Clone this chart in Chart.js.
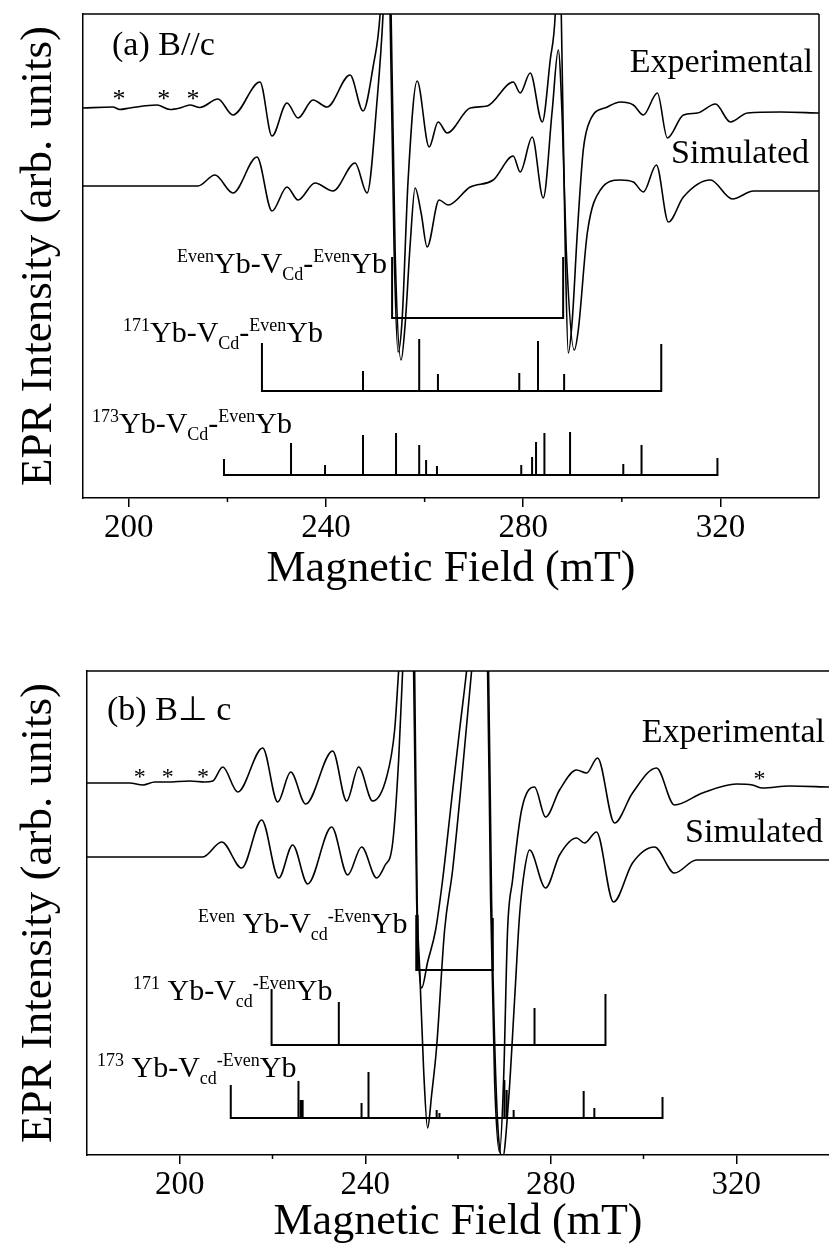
<!DOCTYPE html>
<html><head><meta charset="utf-8">
<script src="https://cdn.jsdelivr.net/npm/chart.js@4.4.1/dist/chart.umd.min.js"></script>
<style>
html,body{margin:0;padding:0;background:#fff;}
canvas{display:block;}
</style></head>
<body>
<canvas id="c1" width="829" height="620"></canvas>
<canvas id="c2" width="829" height="625"></canvas>
<script>
// ---------- tick labels ----------
const majorTicks = [200, 240, 280, 320];
const minorTicks = [220, 260, 300];

// ---------- panel (a) B//c ----------
const aExpField = [190.7,196.75,198.17,200.2,205.69,208.33,210.36,212.39,214.42,218.07,221.12,226.6,229.04,232.08,234.32,237.36,240.2,244.87,247.51,249.54,250.97,251.98,252.99,253.81,254.62,255.43,256.65,258.48,260.92,262.74,264.57,269.24,272.69,277.97,279.39,281.42,283.86,285.48,286.5,287.21,287.72,288.53,289.14,289.95,290.97,292.18,293.6,297.06,299.7,302.34,304.37,307.21,309.24,312.49,315.33,318.99,322.03,325.48,332.19,340];
const aExpInt = [390,391,388.5,390,393,388.5,390,393,390.5,399,383,416,362,395,380,398,391,423,387,431,484,588,484,248,146,178,318,417,351,376,365,390,392,416,405,425,376,438,484,588,484,248,145,178,265,348,378,391,396,393,383,405,360,383,385,394,376,385,386,385];

const aSimField = [190.7,214.01,217.46,221.12,225.99,229.04,232.08,234.32,237.77,241.42,245.89,248.33,250.36,251.57,252.39,253.2,254.01,255.23,256.04,257.06,258.07,259.29,260.51,262.94,264.77,269.24,273.91,277.97,279.39,281.83,284.06,285.89,287.11,287.92,288.73,290.36,291.17,293.0,295.64,299.7,302.34,304.37,307.01,309.45,312.49,317.97,322.44,326.7,340];
const aSimInt = [312,312,323,305,341,287,311,298,315,307,335,305,398,484,588,484,248,138,173,253,310,285,251,298,293,311,318,342,326,361,300,388,448,378,248,148,168,265,308,318,316,306,333,276,301,318,299,307,307];

const aEvenPos = [253.4, 288.1];
const aEvenH = [61, 61];
const aEvenBase = 180;
const a171Pos = [227.0,247.5,258.9,262.7,279.2,283.0,288.3,308.0];
const a171H = [48,20,52,17,18,50,17,47];
const a171Base = 107;
const a173Pos = [219.3,232.9,239.8,247.5,254.2,258.9,260.3,262.5,279.6,281.8,282.6,284.3,289.5,300.3,304.0,319.4];
const a173H = [16,32,10,40,42,30,15,9,10,18,33,42,43,11,30,17];
const a173Base = 23;
const aStarField = [198.0, 207.1, 213.0];
const aStarInt = [403, 403, 403];

// ---------- panel (b) B perp c ----------
const bExpField = [180,189.22,192.03,194.61,197.2,202.16,205.39,207.11,209.27,212.5,217.89,221.12,223.92,227.16,232.97,235.99,238.58,241.59,244.61,246.34,247.2,248.92,250.43,251.08,251.51,252.16,253.45,255.17,256.68,258.62,260.34,261.85,264.22,266.38,267.03,267.89,268.97,269.83,270.69,271.77,273.71,276.51,278.88,281.9,285.56,287.72,290.09,293.75,297.63,302.8,306.68,312.72,320.04,323.49,325.65,331.47,340];
const bExpInt = [372,372,370,373,373,374,373,374,388,363,407,353,383,351,404,354,388,354,378,425,484,595,484,255,195,167,193,225,275,355,425,484,595,484,255,75,3,75,225,275,345,368,338,365,385,382,397,332,362,387,350,362,371,370,367,369,368];

const bSimField = [180,204.96,209.05,213.36,217.67,221.34,224.35,227.59,232.76,236.21,239.22,242.46,244.18,245.91,247.2,248.06,249.35,250.65,251.19,251.72,252.59,253.45,254.31,255.39,257.11,258.84,260.78,262.93,264.87,266.59,267.24,268.32,269.61,270.91,272.2,273.28,274.35,275.43,278.88,281.9,285.56,287.28,289.87,293.53,297.63,302.37,306.68,311.42,340];
const bSimInt = [298,298,313,287,335,277,310,271,328,280,308,277,289,312,395,484,595,484,255,188,85,27,60,108,225,285,375,484,595,484,255,55,-3,55,155,240,285,305,267,300,317,312,323,253,292,308,282,295,295];

const bEvenPos = [251.0, 251.3, 267.5];
const bEvenH = [55, 55, 52];
const bEvenBase = 185;
const b171Pos = [219.8, 234.3, 276.5, 291.8];
const b171H = [56, 43, 37, 51];
const b171Base = 110;
const b173Pos = [211.0,225.6,226.1,226.5,239.2,240.7,255.4,256.0,270.0,270.5,272.0,287.1,289.4,304.1];
const b173H = [33,37,18,18,15,46,8,5,38,28,8,27,10,21];
const b173Base = 37;
const bStarField = [191.4, 197.4, 205.0, 325.0];
const bStarInt = [382, 382, 382, 380];

// ---------- helpers ----------
const SERIF = '"Liberation Serif", "Times New Roman", serif';
const pts = (xs, ys) => xs.map((x, i) => ({x: x, y: ys[i]}));
function stickPts(pos, hts, base) {
  const out = [];
  pos.forEach((p, i) => { out.push({x: p, y: base}, {x: p, y: base + hts[i]}, {x: p, y: base}); });
  return out;
}
const traceDs = (data) => ({data, borderColor: '#000', borderWidth: 1.6, pointRadius: 0, fill: false, cubicInterpolationMode: 'monotone'});
const stickDs = (data) => ({data, borderColor: '#000', borderWidth: 2, pointRadius: 0, fill: false, tension: 0, borderJoinStyle: 'miter', borderCapStyle: 'butt'});

function drawRich(ctx, l) {
  const S = l.size, s = Math.round(S * 0.6);
  const segs = l.parts.map(([t, k]) => {
    const sz = k === 'n' ? S : s;
    ctx.font = sz + 'px ' + SERIF;
    return {t, k, sz, w: ctx.measureText(t).width};
  });
  const total = segs.reduce((a, b) => a + b.w, 0);
  let x = l.align === 'right' ? l.x - total : l.x;
  ctx.textAlign = 'left'; ctx.textBaseline = 'alphabetic';
  segs.forEach(g => {
    ctx.font = g.sz + 'px ' + SERIF;
    const dy = g.k === 'sup' ? -0.37 * S : (g.k === 'sub' ? 0.23 * S : 0);
    ctx.fillText(g.t, x, l.y + dy);
    x += g.w;
  });
}

function makeDecor(cfg) {
  return {
    id: 'decor',
    afterDraw(chart) {
      const {ctx, chartArea: ca, scales: {x, y}} = chart;
      ctx.save();
      ctx.strokeStyle = '#000'; ctx.lineWidth = 1.5;
      ctx.beginPath();
      ctx.moveTo(ca.left, ca.top); ctx.lineTo(ca.right, ca.top);
      if (cfg.rightBorder) { ctx.moveTo(ca.right, ca.top); ctx.lineTo(ca.right, ca.bottom); }
      minorTicks.forEach(v => { const px = x.getPixelForValue(v); ctx.moveTo(px, ca.bottom); ctx.lineTo(px, ca.bottom + 4); });
      ctx.stroke();
      ctx.fillStyle = '#000';
      cfg.labels.forEach(l => drawRich(ctx, l));
      ctx.font = cfg.starSize + 'px ' + SERIF; ctx.textAlign = 'center'; ctx.textBaseline = 'middle';
      cfg.starField.forEach((v, i) => ctx.fillText('*', x.getPixelForValue(v), y.getPixelForValue(cfg.starInt[i]) + 5));
      ctx.restore();
    }
  };
}

function makeChart(id, cfg) {
  return new Chart(document.getElementById(id), {
    type: 'line',
    data: {datasets: cfg.datasets},
    options: {
      responsive: false, animation: false, devicePixelRatio: 1, events: [],
      layout: {padding: cfg.padding},
      plugins: {legend: {display: false}, tooltip: {enabled: false}},
      scales: {
        x: {
          type: 'linear', min: cfg.xmin, max: cfg.xmax,
          afterFit: s => { s.height = cfg.xh; },
          afterBuildTicks: s => { s.ticks = majorTicks.map(v => ({value: v})); },
          ticks: {autoSkip: false, maxRotation: 0, padding: 2, color: '#000', font: {family: SERIF, size: 33}, callback: v => String(v)},
          grid: {display: true, drawOnChartArea: false, drawTicks: true, tickLength: 9, color: '#000', lineWidth: 1.5},
          border: {display: true, color: '#000', width: 1.5},
          title: {display: true, text: 'Magnetic Field (mT)', color: '#000', font: {family: SERIF, size: 44, lineHeight: 1}, padding: {top: 0, bottom: cfg.titlePad}}
        },
        y: {
          type: 'linear', min: 0, max: 484,
          afterFit: s => { s.width = cfg.yw; },
          ticks: {display: false}, grid: {display: false},
          border: {display: true, color: '#000', width: 1.5},
          title: {display: true, text: 'EPR Intensity (arb. units)', color: '#000', font: {family: SERIF, size: 45, lineHeight: 1}, padding: {top: 17, bottom: 0}}
        }
      }
    },
    plugins: [makeDecor(cfg)]
  });
}

const rest173 = (lead, cd, hy) => [[lead, 'sup'], ['Yb-V', 'n'], [cd, 'sub'], [hy, 'n'], ['Even', 'sup'], ['Yb', 'n']];

makeChart('c1', {
  xmin: 190.7, xmax: 340, xh: 122, yw: 83, titlePad: 29,
  padding: {top: 14, right: 10, left: 0, bottom: 0},
  rightBorder: true, starSize: 26,
  starField: aStarField, starInt: aStarInt,
  datasets: [
    traceDs(pts(aExpField, aExpInt)),
    traceDs(pts(aSimField, aSimInt)),
    stickDs(stickPts(aEvenPos, aEvenH, aEvenBase)),
    stickDs(stickPts(a171Pos, a171H, a171Base)),
    stickDs(stickPts(a173Pos, a173H, a173Base))
  ],
  labels: [
    {x: 112, y: 55, size: 34, parts: [['(a) B//c', 'n']]},
    {x: 813, y: 72, size: 34, align: 'right', parts: [['Experimental', 'n']]},
    {x: 809, y: 163, size: 34, align: 'right', parts: [['Simulated', 'n']]},
    {x: 177, y: 273, size: 30, parts: rest173('Even', 'Cd', '-')},
    {x: 123, y: 342, size: 30, parts: rest173('171', 'Cd', '-')},
    {x: 92, y: 433, size: 30, parts: rest173('173', 'Cd', '-')}
  ]
});

const restB = (lead) => [[lead, 'sup'], [' Yb-V', 'n'], ['cd', 'sub'], ['-Even', 'sup'], ['Yb', 'n']];

makeChart('c2', {
  xmin: 180, xmax: 340, xh: 90, yw: 87, titlePad: 1,
  padding: {top: 51, right: 0, left: 0, bottom: 0},
  rightBorder: false, starSize: 24,
  starField: bStarField, starInt: bStarInt,
  datasets: [
    traceDs(pts(bExpField, bExpInt)),
    traceDs(pts(bSimField, bSimInt)),
    stickDs(stickPts(bEvenPos, bEvenH, bEvenBase)),
    stickDs(stickPts(b171Pos, b171H, b171Base)),
    stickDs(stickPts(b173Pos, b173H, b173Base))
  ],
  labels: [
    {x: 107, y: 100, size: 34, parts: [['(b) B\u22A5 c', 'n']]},
    {x: 825, y: 122, size: 34, align: 'right', parts: [['Experimental', 'n']]},
    {x: 823, y: 222, size: 34, align: 'right', parts: [['Simulated', 'n']]},
    {x: 198, y: 313, size: 30, parts: restB('Even')},
    {x: 133, y: 380, size: 30, parts: restB('171')},
    {x: 97, y: 457, size: 30, parts: restB('173')}
  ]
});
</script>
</body></html>
